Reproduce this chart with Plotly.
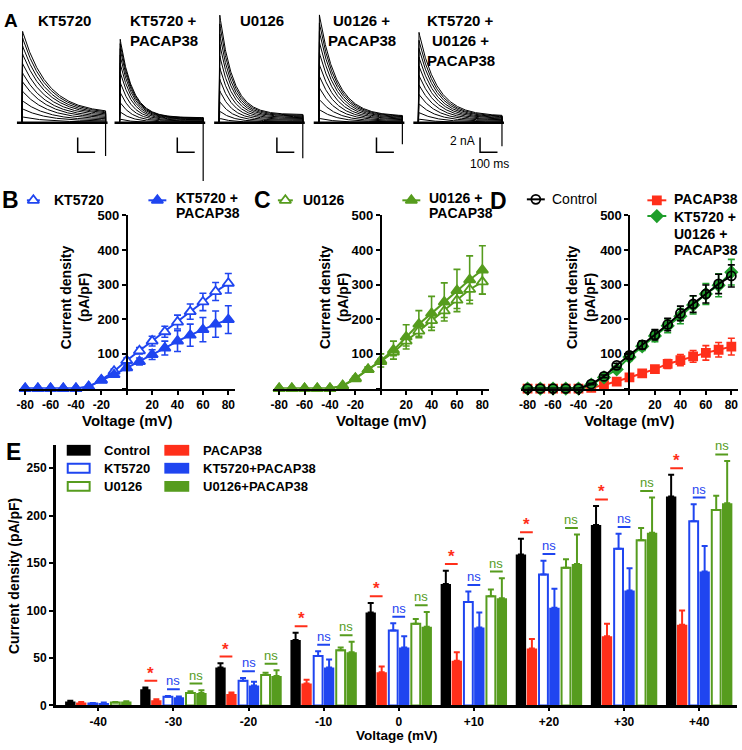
import numpy as np
import plotly.graph_objects as go

W, H = 742, 750
FONT = "Arial, 'Liberation Sans', sans-serif"
BLUE = "#1f45f0"
GREEN = "#569c1e"
DGREEN = "#1f9e2b"
RED = "#ff2f1a"
BLACK = "#000000"

# ---------------- Panel A data (current families) ----------------
a_titles = [["KT5720"], ["KT5720 +", "PACAP38"], ["U0126"],
            ["U0126 +", "PACAP38"], ["KT5720 +", "U0126 +", "PACAP38"]]
a_peaks_nA = [
    [0.0, 0.8, 1.9, 3.0, 4.3, 5.6, 6.8, 8.1, 9.4, 10.5, 11.6, 12.5],
    [0.0, 0.5, 1.5, 2.8, 4.2, 5.6, 7.0, 8.2, 9.3, 10.2, 10.9, 11.5],
    [0.0, 0.6, 1.6, 2.9, 4.4, 6.0, 7.6, 9.2, 10.8, 12.2, 13.6, 14.8],
    [0.0, 0.6, 1.8, 3.2, 4.8, 6.4, 8.0, 9.6, 11.1, 12.5, 13.7, 14.8],
    [0.0, 0.5, 1.4, 2.6, 3.9, 5.2, 6.5, 7.8, 9.0, 10.2, 11.3, 12.4],
]
a_tau_ms = [140, 71, 75, 98, 102]
a_steady_frac = [0.10, 0.06, 0.075, 0.06, 0.073]
a_tail_nA = [-4.5, -7.9, -4.8, -2.9, -3.2]
a_sweep_ms = 480
a_bar_nA = 2
a_bar_ms = 100

# ---------------- Panels B-D data (I-V curves) ----------------
iv_voltage = [-80, -70, -60, -50, -40, -30, -20, -10, 0, 10, 20, 30, 40, 50, 60, 70, 80]
b_kt5720 = [0, 0, 0, 0, 0, 5, 25, 50, 81, 109, 137, 164, 192, 222, 250, 280, 304]
b_kt5720_err = [0, 0, 0, 0, 0, 2, 4, 6, 7, 9, 14, 16, 20, 22, 25, 26, 28]
b_kt5720_pacap = [0, 0, 0, 0, 0, 5, 24, 40, 60, 78, 98, 117, 137, 154, 170, 186, 199]
b_kt5720_pacap_err = [0, 0, 0, 0, 0, 2, 4, 6, 8, 10, 14, 20, 30, 32, 35, 38, 40]

c_u0126 = [0, 0, 0, 0, 0, 8, 28, 55, 78, 105, 137, 166, 196, 224, 255, 286, 308]
c_u0126_err = [0, 0, 0, 0, 0, 2, 4, 6, 8, 10, 14, 15, 19, 19, 24, 31, 35]
c_u0126_pacap = [0, 0, 0, 0, 0, 8, 30, 55, 81, 111, 149, 186, 217, 250, 283, 314, 342]
c_u0126_pacap_err = [0, 0, 0, 0, 0, 2, 5, 8, 19, 26, 35, 39, 49, 55, 61, 69, 70]

d_control = [0, 0, 0, 0, 0, 13, 35, 67, 96, 126, 155, 185, 217, 244, 273, 302, 325]
d_control_err = [0, 0, 0, 0, 0, 2, 4, 6, 10, 12, 15, 18, 21, 24, 26, 28, 32]
d_pacap = [0, 0, 0, 0, 0, 2, 10, 20, 32, 44, 56, 71, 82, 93, 103, 112, 121]
d_pacap_err = [0, 0, 0, 0, 0, 1, 3, 4, 6, 8, 10, 13, 16, 17, 21, 21, 24]
d_triple = [0, 0, 0, 0, 0, 11, 32, 55, 91, 122, 152, 181, 209, 241, 273, 298, 336]
d_triple_err = [0, 0, 0, 0, 0, 2, 4, 6, 10, 12, 17, 20, 22, 26, 30, 33, 37]

# ---------------- Panel E data (bars) ----------------
e_labels = ["-40", "-30", "-20", "-10", "0", "+10", "+20", "+30", "+40"]
e_control = [4, 17, 40, 69, 98, 128, 159, 190, 220]
e_control_err = [1, 2, 4.5, 7.5, 10, 14, 16.5, 20, 23]
e_pacap = [3, 5.5, 12, 23, 35, 47, 60, 73, 85]
e_pacap_err = [0.5, 1, 1.5, 4, 6, 9, 10, 13, 15]
e_kt = [2, 9, 26, 52, 79, 109, 138, 165, 194]
e_kt_err = [0.5, 1, 3, 5, 7.5, 11, 14.5, 16, 18]
e_kt_pacap = [2.5, 8.5, 21, 40, 61, 82, 103, 121, 141]
e_kt_pacap_err = [0.5, 1, 4, 8.5, 12, 16, 20, 23.5, 27]
e_u = [3, 13, 32, 58, 86, 115, 145, 174, 206]
e_u_err = [0.5, 2, 2.5, 3, 5, 7, 9, 13, 15]
e_u_pacap = [4, 13, 31, 56, 83, 113, 149, 182, 213]
e_u_pacap_err = [0.5, 3, 6, 11, 15.5, 21, 31, 37, 44.5]
e_sig = [None, "*", "*", "*", "*", "*", "*", "*", "*"]

# ---------------- layout helpers ----------------
def fx(x):
    return x / W


def fy(y):
    return 1 - y / H


def bold(size, color=BLACK):
    return dict(family=FONT, size=size, color=color, weight="bold")


annotations = []
shapes = []


def ann(text, x, y, size, color=BLACK, weight="bold", xanchor="center",
        yanchor="middle", angle=0):
    annotations.append(dict(text=text, x=fx(x), y=fy(y), xref="paper", yref="paper",
                            showarrow=False, xanchor=xanchor, yanchor=yanchor,
                            textangle=angle,
                            font=dict(family=FONT, size=size, color=color, weight=weight)))


fig = go.Figure()

# ================= Panel A =================
MS_PER_PX = 100 / 17.5
NA_PER_PX = 2 / 15
a_start_px = [20, 118, 218, 318, 418]
a_bar_off_px = [56, 58, 58, 58, 62]
t = np.arange(0, a_sweep_ms + 0.1, 2.0)
rise = 3.0
for p in range(5):
    s = a_start_px[p] * MS_PER_PX
    tau = a_tau_ms[p]
    ss = a_steady_frac[p]
    xs, ys = [], []
    for pk in a_peaks_nA[p]:
        yv = np.where(t < rise, pk * t / rise,
                      pk * (ss + (1 - ss) * np.exp(-(t - rise) / tau)))
        xs += list(s + t) + [s + a_sweep_ms, None]
        ys += list(yv) + [0, None]
    fig.add_trace(go.Scatter(x=xs, y=ys, mode="lines", xaxis="x", yaxis="y",
                             line=dict(color=BLACK, width=1), hoverinfo="skip"))
    # baseline
    fig.add_trace(go.Scatter(x=[s - 5 * MS_PER_PX, s + a_sweep_ms + 2 * MS_PER_PX], y=[0, 0],
                             mode="lines", xaxis="x", yaxis="y",
                             line=dict(color=BLACK, width=2.5), hoverinfo="skip"))
    # tail artifact at end of pulse
    top = max(a_peaks_nA[p]) * ss
    fig.add_trace(go.Scatter(x=[s + a_sweep_ms, s + a_sweep_ms], y=[top, a_tail_nA[p]],
                             mode="lines", xaxis="x", yaxis="y",
                             line=dict(color=BLACK, width=1.2), hoverinfo="skip"))
    # scale bar
    bx = s + a_bar_off_px[p] * MS_PER_PX
    fig.add_trace(go.Scatter(x=[bx, bx, bx + a_bar_ms], y=[-a_bar_nA, -2 * a_bar_nA, -2 * a_bar_nA],
                             mode="lines", xaxis="x", yaxis="y",
                             line=dict(color=BLACK, width=1.5), hoverinfo="skip"))

a_title_cx = [62.5, 162.5, 261, 361, 460.5]
for p, lines in enumerate(a_titles):
    for k, ln in enumerate(lines):
        ann(ln, a_title_cx[p], 14 + 20.5 * k, 15)
ann("2 nA", 477, 137, 12, weight="normal", xanchor="right")
ann("100 ms", 489, 160, 12, weight="normal")

# ================= Panels B-D =================
def iv_series(n, y, err, color, symbol, fill, size, lw=2):
    fig.add_trace(go.Scatter(
        x=iv_voltage, y=y, mode="lines+markers", xaxis=f"x{n}", yaxis=f"y{n}",
        cliponaxis=False, hoverinfo="skip",
        line=dict(color=color, width=lw),
        marker=dict(symbol=symbol, size=size, color=fill,
                    line=dict(color=color, width=1.8)),
        error_y=dict(type="data", array=err, color=color, thickness=1.6, width=3.5)))


iv_series(2, b_kt5720, b_kt5720_err, BLUE, "triangle-up", "white", 10)
iv_series(2, b_kt5720_pacap, b_kt5720_pacap_err, BLUE, "triangle-up", BLUE, 10)
iv_series(3, c_u0126, c_u0126_err, GREEN, "triangle-up", "white", 10)
iv_series(3, c_u0126_pacap, c_u0126_pacap_err, GREEN, "triangle-up", GREEN, 10)
iv_series(4, d_pacap, d_pacap_err, RED, "square", RED, 8)
iv_series(4, d_triple, d_triple_err, DGREEN, "diamond", DGREEN, 9)
iv_series(4, d_control, d_control_err, BLACK, "circle-open", BLACK, 9)

layout_axes = {}
iv_geom = {2: (16.9, 233.6, 125.3), 3: (271.9, 488.7, 380.3), 4: (521.3, 738.7, 630.0)}
xticks = [-80, -60, -40, -20, 0, 20, 40, 60, 80]
yticks = [0, 100, 200, 300, 400, 500]
for n, (xl, xr, x0) in iv_geom.items():
    layout_axes[f"xaxis{n}"] = dict(
        domain=[fx(xl), fx(xr)], range=[-85, 85], anchor=f"y{n}",
        showline=True, linewidth=2, linecolor=BLACK, ticks="outside", ticklen=4,
        tickwidth=2, tickcolor=BLACK, tickvals=xticks,
        ticktext=[("" if v == 0 else str(v)) for v in xticks],
        tickfont=bold(12), showgrid=False, zeroline=False, fixedrange=True)
    layout_axes[f"yaxis{n}"] = dict(
        domain=[fy(388.8), fy(212.3)], range=[0, 500], anchor="free",
        position=fx(x0), showline=True, linewidth=2, linecolor=BLACK,
        ticks="outside", ticklen=4, tickwidth=2, tickcolor=BLACK,
        tickvals=yticks, ticktext=[("" if v == 0 else str(v)) for v in yticks],
        tickfont=bold(13), showgrid=False, zeroline=False, fixedrange=True)

# axis titles
for cx in (126, 381, 630):
    ann("Voltage (mV)", cx, 421, 15)
for cx in (74, 334, 582):
    ann("Current density<br>(pA/pF)", cx, 296, 14, angle=-90)

# panel letters
ann("A", 9, 14, 19)
ann("B", 9, 197, 23)
ann("C", 262, 197, 23)
ann("D", 499, 198, 23)
ann("E", 11.5, 453, 23)

# legend glyphs (pixel overlay axis)
def glyph(x0, x1, y, color, symbol, fill, size):
    fig.add_trace(go.Scatter(x=[x0, x1], y=[y, y], mode="lines", xaxis="x6", yaxis="y6",
                             line=dict(color=color, width=2), hoverinfo="skip"))
    fig.add_trace(go.Scatter(x=[(x0 + x1) / 2], y=[y], mode="markers", xaxis="x6", yaxis="y6",
                             marker=dict(symbol=symbol, size=size, color=fill,
                                         line=dict(color=color, width=1.8)),
                             hoverinfo="skip"))


glyph(25, 38, 197, BLUE, "triangle-up", "white", 10)
ann("KT5720", 50, 197, 14, xanchor="left")
glyph(147, 165, 197, BLUE, "triangle-up", BLUE, 10)
ann("KT5720 +", 173, 195, 14, xanchor="left")
ann("PACAP38", 173, 210, 14, xanchor="left")

glyph(277, 292, 197, GREEN, "triangle-up", "white", 10)
ann("U0126", 300, 197, 14, xanchor="left")
glyph(402, 420, 197, GREEN, "triangle-up", GREEN, 10)
ann("U0126 +", 427, 195, 14, xanchor="left")
ann("PACAP38", 427, 210, 14, xanchor="left")

glyph(527, 545, 196, BLACK, "circle-open", BLACK, 9)
ann("Control", 550, 196, 14, xanchor="left", weight="normal")
glyph(648, 667, 197, RED, "square", RED, 8)
ann("PACAP38", 673, 196, 14, xanchor="left")
glyph(648, 667, 213, DGREEN, "diamond", DGREEN, 9)
ann("KT5720 +", 673, 214, 14, xanchor="left")
ann("U0126 +", 673, 231, 14, xanchor="left")
ann("PACAP38", 673, 248, 14, xanchor="left")

# ================= Panel E =================
e_series = [
    (e_control, e_control_err, BLACK, False),
    (e_pacap, e_pacap_err, RED, False),
    (e_kt, e_kt_err, BLUE, True),
    (e_kt_pacap, e_kt_pacap_err, BLUE, False),
    (e_u, e_u_err, GREEN, True),
    (e_u_pacap, e_u_pacap_err, GREEN, False),
]
bar_offsets = [-0.373, -0.227, -0.073, 0.073, 0.227, 0.373]
groups = np.arange(len(e_labels))
for (vals, errs, color, open_bar), off in zip(e_series, bar_offsets):
    fig.add_trace(go.Bar(
        x=groups + off, y=vals, xaxis="x5", yaxis="y5", hoverinfo="skip",
        width=0.118 if open_bar else 0.138,
        marker=dict(color="white" if open_bar else color,
                    line=dict(color=color, width=2 if open_bar else 0)),
        error_y=dict(type="data", symmetric=False, array=errs,
                     arrayminus=[0] * len(errs), color=color, thickness=2, width=3)))

pair_colors = [RED, BLUE, GREEN]
pair_centers = [-0.3, 0.0, 0.3]
for g in range(len(e_labels)):
    if e_sig[g] is None:
        continue
    for k in range(3):
        a, b = e_series[2 * k], e_series[2 * k + 1]
        top = max(a[0][g] + a[1][g], b[0][g] + b[1][g]) + 7
        xc = g + pair_centers[k]
        shapes.append(dict(type="line", xref="x5", yref="y5", x0=xc - 0.085, x1=xc + 0.085,
                           y0=top, y1=top, line=dict(color=pair_colors[k], width=2)))
        if k == 0:
            annotations.append(dict(text=e_sig[g], x=xc, y=top, xref="x5", yref="y5",
                                    showarrow=False, yanchor="bottom", yshift=-4,
                                    font=dict(family=FONT, size=17, color=RED, weight="bold")))
        else:
            annotations.append(dict(text="ns", x=xc, y=top, xref="x5", yref="y5",
                                    showarrow=False, yanchor="bottom", yshift=-1,
                                    font=dict(family=FONT, size=13, color=pair_colors[k])))

layout_axes["xaxis5"] = dict(
    domain=[fx(54), fx(738)], range=[-0.566, 8.504], anchor="y5",
    showline=True, linewidth=2.5, linecolor=BLACK, ticks="outside", ticklen=3,
    tickwidth=2, tickcolor=BLACK, tickvals=list(groups), ticktext=e_labels,
    tickfont=bold(12), showgrid=False, zeroline=False, fixedrange=True)
layout_axes["yaxis5"] = dict(
    domain=[fy(711.7), fy(446.7)], range=[0, 274], anchor="x5",
    showline=True, linewidth=2.5, linecolor=BLACK, ticks="outside", ticklen=4,
    tickwidth=2, tickcolor=BLACK, tickvals=[0, 50, 100, 150, 200, 250],
    tickfont=bold(12), showgrid=False, zeroline=False, fixedrange=True)
ann("Voltage (mV)", 397, 742.5, 13.5)
ann("Current density (pA/pF)", 12, 580, 14, angle=-90)

# E legend
e_legend = [
    ("Control", BLACK, False, 0, 0), ("KT5720", BLUE, True, 0, 1), ("U0126", GREEN, True, 0, 2),
    ("PACAP38", RED, False, 1, 0), ("KT5720+PACAP38", BLUE, False, 1, 1),
    ("U0126+PACAP38", GREEN, False, 1, 2),
]
col_x = [(65, 89, 100), (163, 188, 200)]
row_y = [451.7, 470, 488.5]
for label, color, open_bar, c, r in e_legend:
    x0, x1, tx = col_x[c]
    y = row_y[r]
    if open_bar:
        shapes.append(dict(type="rect", xref="x6", yref="y6", x0=x0 + 1, x1=x1 - 1,
                           y0=y - 4.5, y1=y + 4.5, fillcolor="white",
                           line=dict(color=color, width=2)))
    else:
        shapes.append(dict(type="rect", xref="x6", yref="y6", x0=x0, x1=x1,
                           y0=y - 5.5, y1=y + 5.5, fillcolor=color, line=dict(width=0)))
    ann(label, tx, y, 13, xanchor="left")

# trace axis (A) and overlay pixel axis
layout_axes["xaxis"] = dict(domain=[0, 1], range=[0, W * MS_PER_PX], anchor="y",
                            visible=False, fixedrange=True)
layout_axes["yaxis"] = dict(domain=[fy(180), 1], range=[-(180 - 118) * NA_PER_PX, 118 * NA_PER_PX],
                            anchor="x", visible=False, fixedrange=True)
layout_axes["xaxis6"] = dict(domain=[0, 1], range=[0, W], anchor="y6", visible=False,
                             fixedrange=True)
layout_axes["yaxis6"] = dict(domain=[0, 1], range=[H, 0], anchor="x6", visible=False,
                             fixedrange=True)

fig.update_layout(
    width=W, height=H, margin=dict(l=0, r=0, t=0, b=0),
    paper_bgcolor="white", plot_bgcolor="rgba(0,0,0,0)",
    showlegend=False, barmode="overlay", font=dict(family=FONT, color=BLACK),
    annotations=annotations, shapes=shapes, **layout_axes)

fig.write_html("out.html", config={"displayModeBar": False},
               post_script="document.body.style.margin='0';")
